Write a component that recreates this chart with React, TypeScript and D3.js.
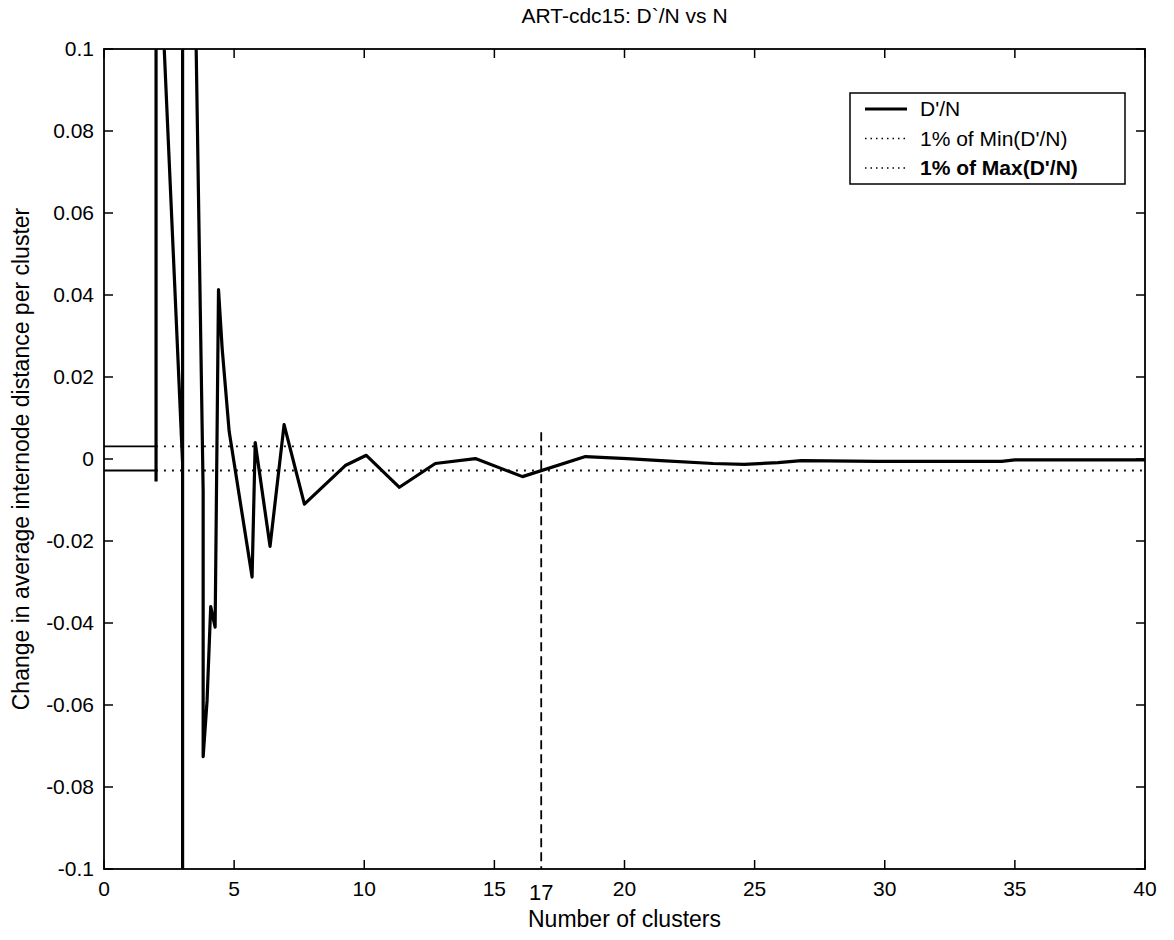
import React from "react";
import * as d3 from "d3";

const width = 1174;
const height = 940;
const margin = { left: 104, right: 29, top: 49, bottom: 71 };

// D'/N curve
const clusterN = [
  2.0, 2.0, 3.02, 3.02, 3.02, 3.81, 3.81, 3.96, 4.1, 4.27, 4.4, 4.54, 4.81, 5.69,
  5.81, 6.38, 6.92, 7.7, 9.27, 10.08, 11.35, 12.73, 14.27, 16.08, 18.5, 20.1, 21.4,
  23.4, 24.6, 25.9, 26.8, 29.7, 34.5, 35, 40,
];
const dPrimeN = [
  -0.0055, 0.145, -0.001, -0.28, 0.31, -0.008, -0.0726, -0.059, -0.036, -0.041, 0.0413,
  0.027, 0.0067, -0.0288, 0.004, -0.0213, 0.0084, -0.011, -0.0016, 0.0009, -0.0069,
  -0.0011, 0.0001, -0.0043, 0.0006, 0.0001, -0.0004, -0.0011, -0.0013, -0.0009,
  -0.0004, -0.0006, -0.0006, -0.0002, -0.0002,
];

const minThreshold = -0.0028; // 1% of Min(D'/N)
const maxThreshold = 0.0031; // 1% of Max(D'/N)
const thresholdStart = 2;
const chosenN = 16.8;
const chosenLabel = "17";
const chosenTop = 0.0065;

const xTicks = [0, 5, 10, 15, 20, 25, 30, 35, 40];
const yTicks = [-0.1, -0.08, -0.06, -0.04, -0.02, 0, 0.02, 0.04, 0.06, 0.08, 0.1];
const legendLabels = ["D'/N", "1% of Min(D'/N)", "1% of Max(D'/N)"];

const font = "Arial, 'Liberation Sans', sans-serif";

export default function App() {
  const x = d3.scaleLinear().domain([0, 40]).range([margin.left, width - margin.right]);
  const y = d3.scaleLinear().domain([-0.1, 0.1]).range([height - margin.bottom, margin.top]);

  const pts: [number, number][] = clusterN.map((n, i) => [n, dPrimeN[i]]);
  const line = d3
    .line<[number, number]>()
    .x((d) => x(d[0]))
    .y((d) => y(d[1]));

  const x0 = x(0), x1 = x(40), y0 = y(-0.1), y1 = y(0.1);
  const tick = 9;

  return (
    <svg
      width={width}
      height={height}
      style={{ position: "absolute", left: 0, top: 0, background: "#fff" }}
      fontFamily={font}
    >
      <defs>
        <clipPath id="plot">
          <rect x={x0} y={y1} width={x1 - x0} height={y0 - y1} />
        </clipPath>
      </defs>

      <text x={(x0 + x1) / 2} y={23} textAnchor="middle" fontSize={21}>
        ART-cdc15: D`/N vs N
      </text>

      {/* threshold lines */}
      {[minThreshold, maxThreshold].map((t, i) => (
        <g key={i}>
          <line x1={x(0)} x2={x(thresholdStart)} y1={y(t)} y2={y(t)} stroke="#000" strokeWidth={1.8} />
          <line
            x1={x(thresholdStart)}
            x2={x(40)}
            y1={y(t)}
            y2={y(t)}
            stroke="#000"
            strokeWidth={1.8}
            strokeDasharray="1.8,6.2"
          />
        </g>
      ))}

      {/* chosen N */}
      <line
        x1={x(chosenN)}
        x2={x(chosenN)}
        y1={y(chosenTop)}
        y2={y0}
        stroke="#000"
        strokeWidth={1.8}
        strokeDasharray="9,5"
      />

      <path
        d={line(pts) ?? ""}
        fill="none"
        stroke="#000"
        strokeWidth={3.2}
        strokeLinejoin="round"
        clipPath="url(#plot)"
      />

      {/* axes box */}
      <rect x={x0} y={y1} width={x1 - x0} height={y0 - y1} fill="none" stroke="#000" strokeWidth={1.8} />

      {xTicks.map((t) => (
        <g key={"x" + t}>
          <line x1={x(t)} x2={x(t)} y1={y0} y2={y0 - tick} stroke="#000" strokeWidth={1.5} />
          <line x1={x(t)} x2={x(t)} y1={y1} y2={y1 + tick} stroke="#000" strokeWidth={1.5} />
          <text x={x(t)} y={y0 + 27} textAnchor="middle" fontSize={21}>
            {t}
          </text>
        </g>
      ))}
      <text x={x(chosenN)} y={y0 + 31} textAnchor="middle" fontSize={22}>
        {chosenLabel}
      </text>

      {yTicks.map((t) => (
        <g key={"y" + t}>
          <line x1={x0} x2={x0 + tick} y1={y(t)} y2={y(t)} stroke="#000" strokeWidth={1.5} />
          <line x1={x1} x2={x1 - tick} y1={y(t)} y2={y(t)} stroke="#000" strokeWidth={1.5} />
          <text x={x0 - 10} y={y(t) + 7} textAnchor="end" fontSize={21}>
            {String(+t.toFixed(2))}
          </text>
        </g>
      ))}

      <text x={(x0 + x1) / 2} y={y0 + 58} textAnchor="middle" fontSize={23}>
        Number of clusters
      </text>
      <text
        transform={`translate(29,${(y0 + y1) / 2}) rotate(-90)`}
        textAnchor="middle"
        fontSize={23}
      >
        Change in average internode distance per cluster
      </text>

      {/* legend */}
      <g>
        <rect x={850} y={93} width={275} height={91} fill="#fff" stroke="#000" strokeWidth={1.5} />
        {legendLabels.map((lab, i) => {
          const ly = 109 + i * 29.5;
          return (
            <g key={lab}>
              <line
                x1={865}
                x2={907}
                y1={ly}
                y2={ly}
                stroke="#000"
                strokeWidth={i === 0 ? 3.2 : 1.5}
                strokeDasharray={i === 0 ? undefined : "1.5,4"}
              />
              <text x={920} y={ly + 7} fontSize={21} fontWeight={i === 2 ? "bold" : "normal"}>
                {lab}
              </text>
            </g>
          );
        })}
      </g>
    </svg>
  );
}
